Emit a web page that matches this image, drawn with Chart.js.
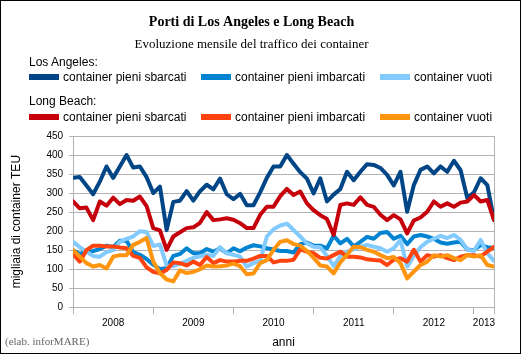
<!DOCTYPE html>
<html>
<head>
<meta charset="utf-8">
<script src="https://cdn.jsdelivr.net/npm/chart.js@4.4.1/dist/chart.umd.min.js"></script>
<style>
  html, body { margin: 0; padding: 0; background: #fff; }
  #wrap { position: relative; width: 519px; height: 352px; border: 1px solid #000; background: #fff; }
  #chart { position: absolute; left: 0; top: 0; }
  .lg { position: absolute; font: 12px 'Liberation Sans', Arial, sans-serif; color: #000; line-height: 14px; white-space: nowrap; }
  .sw { position: absolute; width: 30px; height: 6px; }
  #credit { position: absolute; left: 4px; top: 333px; font: 11px 'Liberation Serif', 'Times New Roman', serif; color: #666; line-height: 14px; }
</style>
</head>
<body>
<div id="wrap">
  <canvas id="chart" width="519" height="352"></canvas>
  <div id="legend"></div>
  <div id="credit">(elab. inforMARE)</div>
</div>
<script>
// monthly data, Jan 2008 - Apr 2013 (thousand TEU)
const years = ['2008', '2009', '2010', '2011', '2012', '2013'];
const monthNames = ['gen', 'feb', 'mar', 'apr', 'mag', 'giu', 'lug', 'ago', 'set', 'ott', 'nov', 'dic'];
const months = [];
years.forEach(y => monthNames.forEach(m => months.push(m + ' ' + y)));
months.length = 64;

const laFullIn = [340, 342, 320, 297, 330, 370, 340, 370, 400, 367, 370, 342,
  300, 317, 203, 277, 280, 305, 280, 305, 322, 310, 338, 297,
  284, 298, 268, 268, 302, 340, 370, 370, 400, 377, 355, 338,
  299, 339, 278, 296, 311, 356, 334, 356, 376, 374, 366, 348,
  320, 356, 251, 321, 361, 370, 352, 370, 356, 385, 360, 287,
  302, 339, 321, 230];
const laFullOut = [150, 140, 146, 148, 153, 162, 158, 175, 175, 145, 138, 127,
  112, 100, 103, 135, 140, 155, 142, 142, 153, 146, 155, 142,
  155, 147, 157, 163, 160, 155, 152, 148, 148, 144, 166, 170,
  162, 162, 155, 188, 168, 180, 160, 172, 185, 180, 195, 198,
  180, 188, 166, 186, 190, 186, 180, 170, 167, 170, 172, 152,
  150, 164, 158, 156];
const laEmpty = [172, 158, 146, 135, 133, 145, 150, 172, 180, 186, 200, 198,
  161, 165, 110, 108, 115, 122, 130, 134, 138, 135, 158, 142,
  138, 133, 107, 116, 122, 186, 205, 215, 220, 203, 186, 168,
  159, 158, 135, 108, 135, 146, 152, 159, 164, 159, 155, 146,
  155, 177, 107, 135, 158, 172, 180, 188, 182, 190, 177, 152,
  148, 177, 142, 122];
const lbFullIn = [278, 260, 262, 229, 278, 267, 288, 271, 282, 280, 291, 266,
  208, 202, 151, 186, 197, 208, 210, 222, 250, 229, 231, 234,
  230, 221, 208, 208, 243, 264, 264, 292, 311, 295, 304, 273,
  255, 242, 232, 190, 269, 273, 269, 289, 269, 264, 243, 229,
  242, 231, 194, 228, 236, 251, 278, 264, 273, 264, 275, 278,
  295, 278, 282, 229];
const lbFullOut = [140, 120, 150, 162, 162, 160, 160, 157, 155, 135, 130, 105,
  93, 89, 98, 118, 116, 110, 120, 111, 132, 116, 124, 120,
  120, 122, 122, 128, 135, 135, 118, 122, 122, 125, 152, 146,
  142, 130, 128, 137, 146, 133, 133, 131, 126, 124, 123, 111,
  125, 129, 120, 151, 120, 137, 133, 137, 129, 124, 133, 137,
  137, 133, 146, 159];
const lbEmpty = [150, 133, 116, 107, 111, 102, 133, 137, 137, 164, 172, 182,
  120, 90, 73, 68, 97, 90, 93, 100, 110, 107, 108, 110,
  115, 108, 87, 89, 116, 124, 151, 172, 176, 166, 162, 148,
  130, 110, 107, 89, 118, 138, 159, 158, 151, 146, 137, 129,
  132, 116, 76, 94, 111, 120, 137, 133, 137, 129, 124, 137,
  133, 137, 111, 107];

const yTicks = [0, 50, 100, 150, 200, 250, 300, 350, 400, 450];
// year boundaries (month index) and where each year label sits
const yearBounds = [0, 12, 24, 36, 48, 60, 63];
const yearLabelPos = [6, 18, 30, 42, 54, 61.5];

const seriesNames = ['container pieni sbarcati', 'container pieni imbarcati', 'container vuoti'];
const groups = [
  { name: 'Los Angeles:', series: [laFullIn, laFullOut, laEmpty], colors: ['#004586', '#0084d1', '#83caff'] },
  { name: 'Long Beach:', series: [lbFullIn, lbFullOut, lbEmpty], colors: ['#c5000b', '#ff420e', '#ff950e'] }
];

const gridGray = '#b3b3b3';
const datasets = [];
groups.forEach((g, gi) => {
  g.series.forEach((vals, si) => {
    datasets.push({
      label: g.name + ' ' + seriesNames[si],
      data: vals.map((v, i) => ({ x: i, y: v })),
      borderColor: g.colors[si],
      backgroundColor: g.colors[si],
      borderWidth: 4,
      pointRadius: 0,
      tension: 0,
      borderJoinStyle: 'round',
      borderCapStyle: 'round',
      order: 6 - datasets.length // later series drawn on top
    });
  });
});

// legend (html, two groups with headers)
const legend = document.getElementById('legend');
const headTop = [54, 93];
const rowMid = [76.3, 115.7];
const colSwatch = [28, 200, 379];
const colText = [62, 234, 413];
groups.forEach((g, gi) => {
  const h = document.createElement('div');
  h.className = 'lg';
  h.style.left = '28px';
  h.style.top = headTop[gi] + 'px';
  h.textContent = g.name;
  legend.appendChild(h);
  seriesNames.forEach((s, si) => {
    const sw = document.createElement('div');
    sw.className = 'sw';
    sw.style.left = colSwatch[si] + 'px';
    sw.style.top = (rowMid[gi] - 3) + 'px';
    sw.style.background = g.colors[si];
    legend.appendChild(sw);
    const t = document.createElement('div');
    t.className = 'lg';
    t.style.left = colText[si] + 'px';
    t.style.top = (rowMid[gi] - 7) + 'px';
    t.textContent = s;
    legend.appendChild(t);
  });
});

const sans = 'Liberation Sans, Arial, sans-serif';
const ctx = document.getElementById('chart').getContext('2d');
new Chart(ctx, {
  type: 'line',
  data: { datasets: datasets },
  options: {
    responsive: false,
    animation: false,
    layout: { padding: { left: 8, right: 26, top: 0, bottom: 3.5 } },
    plugins: {
      legend: { display: false },
      tooltip: { enabled: false },
      title: {
        display: true,
        text: 'Porti di Los Angeles e Long Beach',
        color: '#000',
        font: { family: 'Liberation Serif', size: 14, weight: 'bold' },
        padding: { top: 13, bottom: 6 }
      },
      subtitle: {
        display: true,
        text: 'Evoluzione mensile del traffico dei container',
        color: '#000',
        font: { family: 'Liberation Serif', size: 13 },
        padding: { top: 0, bottom: 83.6 }
      }
    },
    scales: {
      x: {
        type: 'linear',
        min: 0,
        max: months.length - 1,
        afterBuildTicks: axis => {
          axis.ticks = yearBounds.concat(yearLabelPos).sort((a, b) => a - b).map(v => ({ value: v }));
        },
        ticks: {
          autoSkip: false,
          maxRotation: 0,
          padding: 3,
          color: '#000',
          font: { family: sans, size: 10 },
          callback: v => {
            const k = yearLabelPos.indexOf(v);
            return k >= 0 ? years[k] : '';
          }
        },
        grid: {
          drawOnChartArea: true,
          tickLength: 7,
          // only the right edge line inside the plot; tick marks at year boundaries
          color: c => (c.tick && c.tick.value === months.length - 1) ? gridGray : 'rgba(0,0,0,0)',
          tickColor: c => (c.tick && yearBounds.includes(c.tick.value)) ? gridGray : 'rgba(0,0,0,0)'
        },
        border: { color: gridGray },
        title: {
          display: true,
          text: 'anni',
          color: '#000',
          font: { family: sans, size: 12 },
          padding: { top: 2.8, bottom: 0 }
        }
      },
      y: {
        min: 0,
        max: 450,
        afterBuildTicks: axis => { axis.ticks = yTicks.map(v => ({ value: v })); },
        ticks: { padding: 6, color: '#000', font: { family: sans, size: 10 } },
        grid: { color: gridGray, tickLength: 4 },
        border: { color: gridGray },
        title: {
          display: true,
          text: 'migliaia di container TEU',
          color: '#000',
          font: { family: sans, size: 12 },
          padding: { top: 0, bottom: 17 }
        }
      }
    }
  }
});
</script>
</body>
</html>
